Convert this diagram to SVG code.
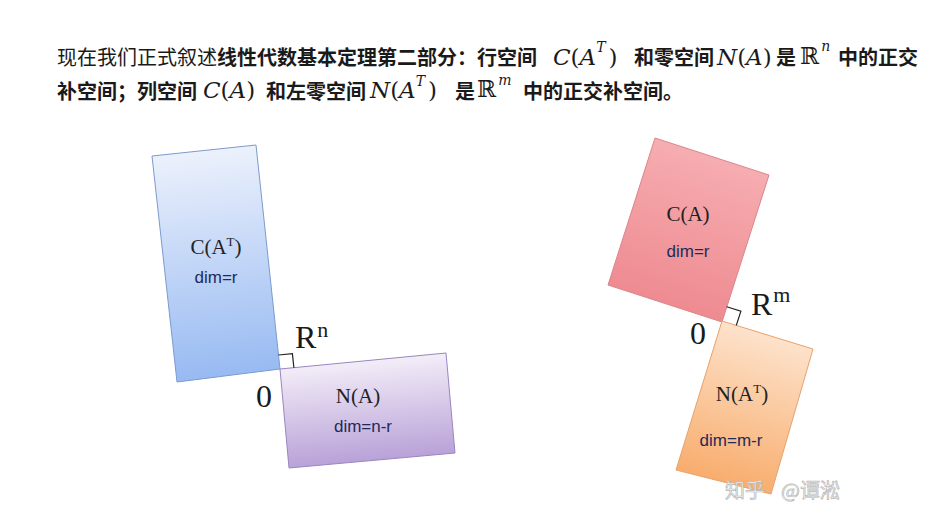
<svg xmlns="http://www.w3.org/2000/svg" width="942" height="514" viewBox="0 0 942 514">
<style>
.zh{font-family:"Noto Sans CJK SC","Noto Sans",sans-serif;font-size:20px;fill:#1a1a1a}
.b{font-weight:bold}
.m{font-family:"DejaVu Serif","Liberation Serif",serif;font-size:23px;fill:#1a1a1a}
.i{font-style:italic}
.s{font-size:14px;font-style:italic}
.lbl{font-family:"Liberation Serif","DejaVu Serif",serif;font-size:21px;fill:#222}
.sup{font-size:13px}
.dim{font-family:"Liberation Sans","Noto Sans",sans-serif;font-size:17px;fill:#1f2a5a}
.big{font-family:"Liberation Serif","DejaVu Serif",serif;font-size:32px;fill:#1a1a1a}
.bigsup{font-size:22px}
.mark{fill:none;stroke:#222;stroke-width:1.2}
.wm{font-family:"Noto Sans CJK SC",sans-serif;font-size:20px;fill:#f2f2f2;stroke:#b8b8b8;stroke-width:0.7}
</style>
<defs>
<linearGradient id="gBlue" gradientUnits="userSpaceOnUse" x1="204" y1="150" x2="229" y2="376">
<stop offset="0" stop-color="#ecf1fc"/><stop offset="1" stop-color="#97baf2"/>
</linearGradient>
<linearGradient id="gPurple" gradientUnits="userSpaceOnUse" x1="363" y1="361" x2="372" y2="460">
<stop offset="0" stop-color="#f3edf8"/><stop offset="1" stop-color="#b9a2d8"/>
</linearGradient>
<linearGradient id="gRed" gradientUnits="userSpaceOnUse" x1="712" y1="156" x2="665" y2="303">
<stop offset="0" stop-color="#f6adb1"/><stop offset="1" stop-color="#ee8b91"/>
</linearGradient>
<linearGradient id="gOrange" gradientUnits="userSpaceOnUse" x1="767" y1="335" x2="723" y2="482">
<stop offset="0" stop-color="#fde2cb"/><stop offset="1" stop-color="#f8ad6e"/>
</linearGradient>
</defs>
<rect width="942" height="514" fill="#ffffff"/>

<g id="header">
<text class="zh" x="57" y="65">现在我们正式叙述</text>
<text class="zh b" x="217" y="65">线性代数基本定理第二部分：行空间</text>
<text class="m" x="553" y="65"><tspan class="i">C</tspan>(<tspan class="i">A</tspan><tspan class="s" dy="-13">T</tspan><tspan dx="3" dy="13">)</tspan></text>
<text class="zh b" x="634" y="65">和零空间</text>
<text class="m" x="717" y="65"><tspan class="i">N</tspan>(<tspan class="i">A</tspan>)</text>
<text class="zh b" x="776" y="65">是</text>
<text class="m" x="800" y="64">ℝ<tspan class="s" dx="2" dy="-13">n</tspan></text>
<text class="zh b" x="838" y="65">中的正交</text>

<text class="zh b" x="57" y="99">补空间；列空间</text>
<text class="m" x="203" y="98"><tspan class="i">C</tspan>(<tspan class="i">A</tspan>)</text>
<text class="zh b" x="266" y="99">和左零空间</text>
<text class="m" x="370" y="98"><tspan class="i">N</tspan>(<tspan class="i">A</tspan><tspan class="s" dy="-12">T</tspan><tspan dx="3" dy="12">)</tspan></text>
<text class="zh b" x="455" y="99">是</text>
<text class="m" x="477" y="97">ℝ<tspan class="s" dx="2" dy="-12">m</tspan></text>
<text class="zh b" x="523" y="99">中的正交补空间。</text>
</g>

<g id="row-space">
<polygon points="152,156 256,145 280,369 177,382" fill="url(#gBlue)" stroke="#7d9acb" stroke-width="1"/>
<text class="lbl" x="216" y="254" text-anchor="middle">C(A<tspan class="sup" dy="-8">T</tspan><tspan dy="8">)</tspan></text>
<text class="dim" x="216" y="283" text-anchor="middle">dim=r</text>
</g>

<g id="null-space">
<polygon points="280,369 446,353 455,453 289,468" fill="url(#gPurple)" stroke="#9a86bf" stroke-width="1"/>
<text class="lbl" x="358" y="403" text-anchor="middle">N(A)</text>
<text class="dim" x="363" y="432" text-anchor="middle">dim=n-r</text>
</g>

<g id="col-space">
<polygon points="655,138 769,175 722,322 608,285" fill="url(#gRed)" stroke="#d9868b" stroke-width="1"/>
<text class="lbl" x="688" y="221" text-anchor="middle">C(A)</text>
<text class="dim" x="688" y="257" text-anchor="middle">dim=r</text>
</g>

<g id="left-null-space">
<polygon points="722,321 813,349 771,494 676,470" fill="url(#gOrange)" stroke="#e8a26a" stroke-width="1"/>
<text class="lbl" x="742" y="401" text-anchor="middle">N(A<tspan class="sup" dy="-8">T</tspan><tspan dy="8">)</tspan></text>
<text class="dim" x="731" y="446" text-anchor="middle">dim=m-r</text>
</g>

<g id="connectors">
<polyline class="mark" points="278.5,355 292.4,353.7 293.9,367.7"/>
<polyline class="mark" points="726.6,306.7 740.9,311.1 736.3,325.4"/>
</g>

<g id="space-labels">
<text class="big" x="295" y="348">R<tspan class="bigsup" dx="1" dy="-11">n</tspan></text>
<text class="big" x="256" y="407">0</text>
<text class="big" x="751" y="315">R<tspan class="bigsup" dx="1" dy="-13">m</tspan></text>
<text class="big" x="690" y="344">0</text>
</g>

<g id="watermark">
<text class="wm" x="725" y="498">知乎</text>
<text class="wm" x="781" y="498">@谭淞</text>
</g>
</svg>
